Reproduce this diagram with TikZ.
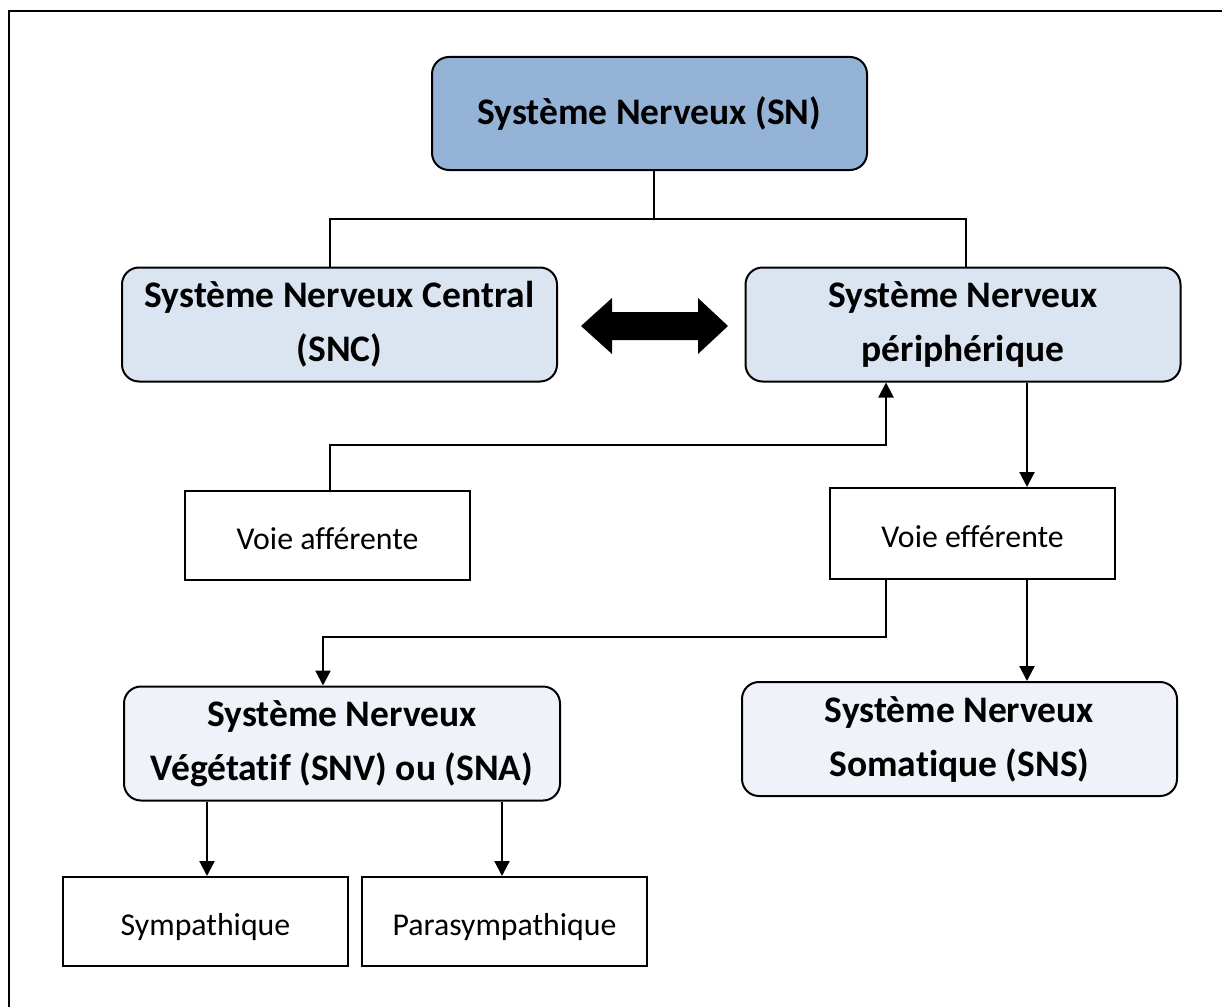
\documentclass[tikz,border=0pt]{standalone}
\usepackage{fontspec}
\setmainfont{Carlito}[Ligatures={NoCommon,NoRequired,NoContextual}]
\usetikzlibrary{arrows.meta}
\definecolor{snblue}{HTML}{95B3D7}
\definecolor{midblue}{HTML}{DBE5F1}
\definecolor{paleblue}{HTML}{EFF3F9}
\tikzset{
  rbox/.style={draw=black, line width=2pt, rounded corners=17pt, minimum width=435pt, minimum height=114pt, align=center, inner sep=0pt, font=\fontsize{37.5}{54}\selectfont\bfseries},
  sbox/.style={draw=black, line width=2pt, minimum width=285pt, minimum height=89pt, align=center, inner sep=0pt, text height=28pt, text depth=0pt, font=\fontsize{31.8}{38}\selectfont},
  conn/.style={line width=2.2pt},
  arr/.style={line width=2.2pt, -{Triangle[width=15pt,length=15pt]}},
}
\begin{document}
\begin{tikzpicture}[x=1pt,y=-1pt]
\useasboundingbox (0,0) rectangle (1222,1006);
% outer frame (partly visible)
\draw[line width=2.6pt] (9,1010) -- (9,11) -- (1226,11);

\node[rbox, fill=snblue, minimum height=113pt] (SN) at (649.5,113.5) {Système Nerveux (SN)};
\node[rbox, fill=midblue] (SNC) at (339.5,324.5) {Système Nerveux Central\\(SNC)};
\node[rbox, fill=midblue] (SNP) at (963,324.5) {Système Nerveux\\périphérique};
\node[sbox] (VA) at (327.5,535) {Voie afférente};
\node[sbox, minimum height=91pt] (VE) at (972.5,533.5) {Voie efférente};
\node[rbox, fill=paleblue, minimum width=436pt] (SNV) at (342,743.5) {Système Nerveux\\Végétatif (SNV) ou (SNA)};
\node[rbox, fill=paleblue] (SNS) at (959.5,739) {Système Nerveux\\Somatique (SNS)};
\node[sbox] (SY) at (205.5,921.5) {Sympathique};
\node[sbox] (PA) at (504.5,921.5) {Parasympathique};

% helper coordinates
\coordinate (xSN) at (654,0);
\coordinate (xL) at (330,0);
\coordinate (xR) at (966,0);
\coordinate (aff) at (886,445);
\coordinate (xE) at (1027,0);
\coordinate (xD) at (886,0);
\coordinate (yD) at (0,637);
\coordinate (xV) at (323,0);
\coordinate (xS1) at (207,0);
\coordinate (xS2) at (502,0);

% tree from SN
\draw[conn] (SN.south -| xSN) -- ++(0,48) coordinate (bar);
\draw[conn] (SNC.north -| xL) |- (bar) -| (SNP.north -| xR);

% double arrow between SNC and SNP
\fill[black] (581,326) -- (612,298) -- (612,312) -- (698,312) -- (698,298) -- (728,326)
  -- (698,354) -- (698,340) -- (612,340) -- (612,354) -- cycle;

% afferent
\draw[arr] (VA.north -| xL) |- (aff) -- (SNP.south -| aff);
% efferent
\draw[arr] (SNP.south -| xE) -- (VE.north -| xE);
\draw[arr] (VE.south -| xE) -- (SNS.north -| xE);
\draw[arr] (VE.south -| xD) |- (xV |- yD) -- (SNV.north -| xV);
% vegetative
\draw[arr] (SNV.south -| xS1) -- (SY.north -| xS1);
\draw[arr] (SNV.south -| xS2) -- (PA.north -| xS2);
\end{tikzpicture}
\end{document}
